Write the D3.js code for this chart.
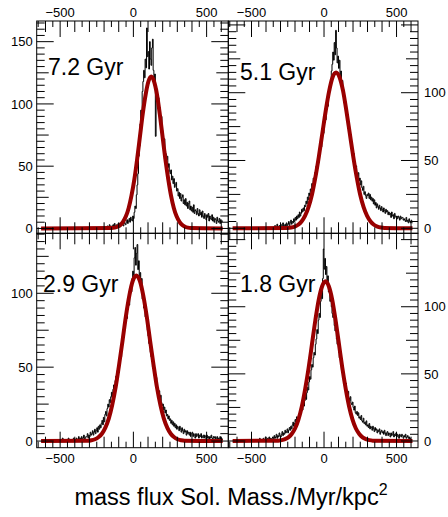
<!DOCTYPE html>
<html><head><meta charset="utf-8">
<script src="https://cdn.jsdelivr.net/npm/d3@7"></script>
<style>
body{margin:0;background:#fff}
svg{display:block}
text{font-family:"Liberation Sans",Arial,Helvetica,sans-serif;fill:#000}
</style>
</head><body>
<svg id="c" width="448" height="517"></svg>
<script>
// ---------- DATA ----------
const panelLabels = ["7.2 Gyr", "5.1 Gyr", "2.9 Gyr", "1.8 Gyr"];
const binLow = d3.range(-630, 610, 5);   // 248 bins, width 5
const binWidth = 5;

const hist72 = [
 0,0,0,0,0,0,0,0,0,0, 0,0,0,0,0,0,0,0,0,0, 0,0,0,0,0,0,0,0,0,0,
 0,0,0,0,0,0,0,0,0,0, 0,0,0,0,0,0,0,0,0,0, 0,0,0,0,0,0,0,0,0,0,
 0,0,0,0,0,0,0,0,0,0, 0,0,0,0,0,0,0,0,0,0, 0,0,0,0,0,0,
 0,1,0,0,2,1,0,3,1,2, 0,2,3,1,4,2,1,3,2,4,
 3,1,4,2,5,3,2,6,4,3, 5,7,4,6,8,5,9,7,6,10,
 8,13,18,16,27,35,44,58,66,84, 95,91,110,118,127,121,136,129,161,138,
 142,128,150,136,131,145,152,127,118,124, 74,103,112,98,105,93,97,86,90,79,
 76,70,72,62,60,55,58,49,52,46, 44,47,39,42,36,40,33,35,37,30,
 32,26,29,24,28,22,25,27,20,23, 19,24,18,21,16,20,22,15,18,14,
 17,13,19,12,15,14,11,16,12,10, 15,11,13,9,14,10,8,12,10,7,
 11,9,12,6,10,8,7,11,6,9, 5,8,7,4,9,6,5,8,4,7,
 5,6];
const hist51 = [
 0,0,0,0,0,0,0,0,0,0, 0,0,0,0,0,0,0,0,0,0, 0,0,0,0,0,0,0,0,0,0,
 0,0,0,0,0,0,0,0,0,0, 0,0,0,0,0,0,0,0,0,0, 0,0,0,0,0,0,
 1,0,2,0,0,3,1,0,2,1, 3,0,2,4,1,2,3,1,4,2,
 3,5,2,4,6,3,5,4,7,5, 8,6,9,7,10,8,12,9,11,14,
 12,15,13,17,16,20,18,23,21,26, 24,29,27,33,31,37,35,41,40,46,
 44,50,48,55,58,62,60,68,72,70, 78,82,80,88,92,90,98,104,101,110,
 116,121,130,124,137,128,146,133,122,127, 118,124,112,116,106,109,98,102,92,88,
 84,80,82,74,70,72,64,60,62,55, 52,55,47,44,46,40,38,41,35,37,
 32,35,30,28,31,25,27,24,22,25, 24,26,22,25,21,23,20,22,18,21,
 17,19,15,18,16,14,17,15,13,16, 14,12,15,13,11,14,12,13,10,12,
 10,11,8,12,9,10,7,11,9,8, 9,7,9,8,6,9,7,8,8,6,
 7,6,5,8,5,6,4,7,5,4,6,4];
const hist29 = [
 0,0,0,0,0,0,0,0,0,0, 0,0,0,0,0,0,0,0,0,0, 0,0,
 1,0,0,0,1,0,0,2,0,0, 1,0,0,1,0,2,0,0,1,0,
 1,0,2,0,1,0,2,1,0,3, 1,2,0,3,1,2,4,1,2,3,
 3,5,2,4,3,6,4,5,7,4, 6,8,5,7,9,6,10,8,11,9,
 12,14,11,16,13,18,20,17,22,25, 23,28,26,30,33,29,35,38,36,41,
 44,42,48,51,49,56,60,57,64,67, 74,77,76,82,85,83,90,94,92,99,
 104,101,110,115,112,124,131,119,127,133, 116,122,108,114,104,110,96,99,90,93,
 84,87,78,75,71,66,68,60,57,59, 50,52,46,44,41,43,37,35,32,34,
 29,31,26,24,25,21,23,19,21,17, 18,15,17,14,15,12,14,11,13,10,
 12,9,11,8,10,9,7,10,8,6, 9,7,5,8,6,7,4,7,5,6,
 4,6,3,5,6,3,5,4,2,5, 3,4,5,2,4,3,5,2,3,4,
 2,4,3,1,4,2,3,1,3,2, 4,2,1,3,2,3,1,2,3,1,
 2,1,3,1,2,1];
const hist18 = [
 0,0,0,0,0,0,0,0,0,0, 0,0,0,0,0,0,0,0,0,0, 0,0,0,0,0,0,0,0,0,0, 0,0,0,0,
 1,0,0,2,0,1,0,1,2,0, 1,3,0,1,2,0,3,1,2,1,
 2,3,1,4,2,3,5,2,4,3, 6,4,3,5,7,4,6,5,8,6,
 7,9,6,8,10,8,11,9,12,14, 11,13,16,14,18,15,17,20,18,22,
 21,24,23,27,26,30,33,31,36,40, 38,44,48,46,53,57,55,62,66,64,
 72,76,83,80,90,95,92,104,110,106, 121,143,128,136,124,130,119,123,111,114,
 104,107,100,95,92,94,86,82,84,76, 72,74,66,62,64,57,53,55,49,46,
 44,41,43,37,35,37,32,30,33,28, 27,29,25,23,26,21,20,22,19,21,
 17,18,16,19,15,14,17,13,14,12, 15,11,12,10,13,9,11,10,8,11,
 9,7,10,8,9,6,8,7,9,5, 7,8,6,7,5,8,6,4,6,7,
 4,6,5,3,6,4,5,7,3,5, 4,6,3,5,4,2,5,4,3,5,
 4,2,4,3,5,2,3,4,2,3,1,2];

// Gaussian fit curves
const fit72X = [-630,-148,-128,-109,-90,-71,-51,-32,-13,7,26,45,64,84,103,122,141,161,180,199,218,238,257,276,295,315,334,353,372,392,610];
const fit72Y = [0,0.27,0.62,1.35,2.78,5.36,9.71,16.5,26.4,39.6,55.9,74.0,92.1,107.7,118.2,122,118.2,107.7,92.1,74.0,55.9,39.6,26.4,16.5,9.71,5.36,2.78,1.35,0.62,0.27,0];
const fit51X = [-630,-250,-226,-202,-178,-155,-131,-107,-83,-60,-36,-12,12,36,59,83,107,131,154,178,202,226,249,273,297,321,344,368,392,416,610];
const fit51Y = [0,0.25,0.59,1.28,2.62,5.05,9.15,15.6,24.9,37.3,52.6,69.7,86.8,101.5,111.4,115,111.4,101.5,86.8,69.7,52.6,37.3,24.9,15.6,9.15,5.05,2.62,1.28,0.59,0.25,0];
const fit29X = [-630,-309,-286,-262,-239,-215,-192,-168,-145,-121,-98,-74,-51,-27,-4,20,44,67,91,114,138,161,185,208,232,255,279,302,326,349,610];
const fit29Y = [0,0.25,0.57,1.24,2.55,4.92,8.92,15.2,24.2,36.4,51.3,67.9,84.5,98.8,108.5,112,108.5,98.8,84.5,67.9,51.3,36.4,24.2,15.2,8.92,4.92,2.55,1.24,0.57,0.25,0];
const fit18X = [-630,-316,-292,-269,-246,-223,-199,-176,-153,-130,-106,-83,-60,-37,-13,10,33,57,80,103,126,150,173,196,219,243,266,289,312,336,610];
const fit18Y = [0,0.26,0.61,1.32,2.71,5.22,9.47,16.1,25.7,38.6,54.5,72.2,89.8,105.0,115.3,119,115.3,105.0,89.8,72.2,54.5,38.6,25.7,16.1,9.47,5.22,2.71,1.32,0.61,0.26,0];

const xTickLabels = [-500, 0, 500];
const yLabels72 = [0, 50, 100, 150];
const yLabels51 = [0, 50, 100];
const yLabels29 = [0, 50, 100];
const yLabels18 = [0, 50, 100];
const xTitle = "mass flux Sol. Mass./Myr/kpc";

// ---------- LAYOUT ----------
const xDomain = [-660, 648];
const panels = [
  {label: panelLabels[0], hist: hist72, fx: fit72X, fy: fit72Y, yl: yLabels72,
   box: [36.7, 228.3, 21, 233.3], yDom: [-3.9, 166.6], ySide: "left", xSide: "top", lab: [48, 75]},
  {label: panelLabels[1], hist: hist51, fx: fit51X, fy: fit51Y, yl: yLabels51,
   box: [228.3, 418, 21, 233.3], yDom: [-3.7, 152.9], ySide: "right", xSide: "top", lab: [240, 80]},
  {label: panelLabels[2], hist: hist29, fx: fit29X, fy: fit29Y, yl: yLabels29,
   box: [36.7, 228.3, 233.3, 447.7], yDom: [-4.5, 140.6], ySide: "left", xSide: "bottom", lab: [43, 292]},
  {label: panelLabels[3], hist: hist18, fx: fit18X, fy: fit18Y, yl: yLabels18,
   box: [228.3, 418, 233.3, 447.7], yDom: [-5, 154.7], ySide: "right", xSide: "bottom", lab: [240, 292]}
];

const svg = d3.select("#c");
const fmt = v => v < 0 ? "\u2212" + Math.abs(v) : String(v);

panels.forEach((p, pi) => {
  const [L, R, T, B] = p.box;
  const x = d3.scaleLinear().domain(xDomain).range([L, R]);
  const y = d3.scaleLinear().domain(p.yDom).range([B, T]);
  const g = svg.append("g");

  const clipId = "clip" + pi;
  svg.append("clipPath").attr("id", clipId)
    .append("rect").attr("x", L).attr("y", T).attr("width", R - L).attr("height", B - T);

  // histogram (step outline)
  const pts = binLow.map((lo, i) => [lo, p.hist[i]]);
  pts.push([binLow[binLow.length - 1] + binWidth, p.hist[p.hist.length - 1]]);
  const histLine = d3.line().x(d => x(d[0])).y(d => y(d[1])).curve(d3.curveStepAfter);
  g.append("path").attr("d", histLine(pts)).attr("fill", "none")
    .attr("stroke", "#000").attr("stroke-width", 1).attr("clip-path", `url(#${clipId})`);

  // fit curve
  const fitPts = p.fx.map((v, i) => [v, p.fy[i]]);
  const fitLine = d3.line().x(d => x(d[0])).y(d => y(d[1])).curve(d3.curveMonotoneX);
  g.append("path").attr("d", fitLine(fitPts)).attr("fill", "none")
    .attr("stroke", "#990000").attr("stroke-width", 4).attr("stroke-linejoin", "round")
    .attr("clip-path", `url(#${clipId})`);

  // ticks
  const xt = d3.range(-650, 651, 50).filter(v => v >= xDomain[0] && v <= xDomain[1]);
  xt.forEach(v => {
    const len = v % 500 === 0 ? 16 : (v % 100 === 0 ? 11 : 6);
    const xx = x(v);
    g.append("line").attr("x1", xx).attr("x2", xx).attr("y1", T).attr("y2", T + len)
      .attr("stroke", "#000").attr("stroke-width", 1);
    g.append("line").attr("x1", xx).attr("x2", xx).attr("y1", B).attr("y2", B - len)
      .attr("stroke", "#000").attr("stroke-width", 1);
  });
  const yt = d3.range(0, 200, 5).filter(v => v >= p.yDom[0] && v <= p.yDom[1]);
  yt.forEach(v => {
    const len = v % 50 === 0 ? 17 : (v % 25 === 0 ? 12 : 8);
    const yy = y(v);
    g.append("line").attr("x1", L).attr("x2", L + len).attr("y1", yy).attr("y2", yy)
      .attr("stroke", "#000").attr("stroke-width", 1);
    g.append("line").attr("x1", R).attr("x2", R - len).attr("y1", yy).attr("y2", yy)
      .attr("stroke", "#000").attr("stroke-width", 1);
  });

  // frame
  g.append("rect").attr("x", L).attr("y", T).attr("width", R - L).attr("height", B - T)
    .attr("fill", "none").attr("stroke", "#000").attr("stroke-width", 1);

  // x labels
  xTickLabels.forEach(v => {
    g.append("text").attr("x", x(v)).attr("y", p.xSide === "top" ? T - 4 : B + 15)
      .attr("text-anchor", "middle").attr("font-size", 13).text(fmt(v));
  });
  // y labels
  p.yl.forEach(v => {
    g.append("text")
      .attr("x", p.ySide === "left" ? L - 4 : R + 6)
      .attr("y", y(v)).attr("dy", "0.36em")
      .attr("text-anchor", p.ySide === "left" ? "end" : "start")
      .attr("font-size", 13).text(fmt(v));
  });

  // panel label
  g.append("text").attr("x", p.lab[0]).attr("y", p.lab[1]).attr("font-size", 23).text(p.label);
});

// axis title
const t = svg.append("text").attr("x", 231).attr("y", 505).attr("text-anchor", "middle").attr("font-size", 23.5);
t.append("tspan").text(xTitle);
t.append("tspan").attr("font-size", 16).attr("dy", -10).text("2");
</script>
</body></html>
